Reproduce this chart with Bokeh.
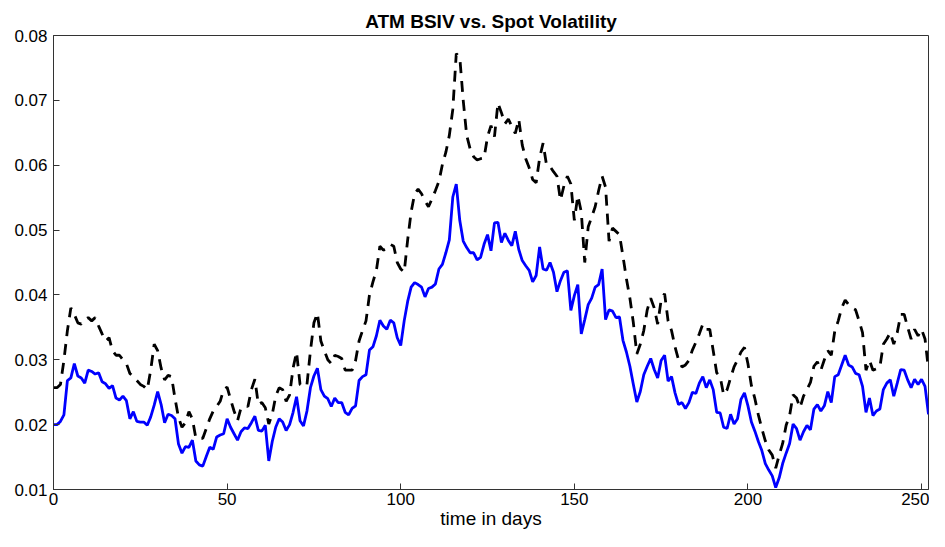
from bokeh.plotting import figure
from bokeh.models import FixedTicker, Range1d
from bokeh.embed import file_html
from bokeh.resources import INLINE

days = list(range(253))

atm_bsiv = [
    0.0200, 0.0200, 0.0205, 0.0215, 0.0268, 0.0272, 0.0294, 0.0275, 0.0272, 0.0264,
    0.0284, 0.0282, 0.0278, 0.0280, 0.0266, 0.0263, 0.0256, 0.0260, 0.0241, 0.0238,
    0.0244, 0.0237, 0.0209, 0.0220, 0.0205, 0.0204, 0.0204, 0.0199, 0.0212, 0.0230,
    0.0251, 0.0231, 0.0203, 0.0216, 0.0214, 0.0209, 0.0170, 0.0156, 0.0166, 0.0165,
    0.0176, 0.0144, 0.0138, 0.0136, 0.0151, 0.0165, 0.0162, 0.0181, 0.0184, 0.0186,
    0.0209, 0.0196, 0.0186, 0.0176, 0.0189, 0.0195, 0.0194, 0.0203, 0.0213, 0.0191,
    0.0190, 0.0199, 0.0144, 0.0174, 0.0196, 0.0209, 0.0204, 0.0191, 0.0200, 0.0219,
    0.0243, 0.0206, 0.0198, 0.0221, 0.0257, 0.0275, 0.0287, 0.0254, 0.0244, 0.0240,
    0.0228, 0.0241, 0.0234, 0.0234, 0.0219, 0.0215, 0.0225, 0.0229, 0.0268, 0.0274,
    0.0277, 0.0315, 0.0320, 0.0337, 0.0361, 0.0352, 0.0347, 0.0361, 0.0357, 0.0334,
    0.0322, 0.0360, 0.0390, 0.0412, 0.0419, 0.0416, 0.0412, 0.0397, 0.0410, 0.0412,
    0.0417, 0.0440, 0.0447, 0.0465, 0.0485, 0.0551, 0.0571, 0.0515, 0.0483, 0.0473,
    0.0465, 0.0465, 0.0454, 0.0458, 0.0478, 0.0493, 0.0468, 0.0511, 0.0512, 0.0481,
    0.0495, 0.0484, 0.0476, 0.0498, 0.0470, 0.0453, 0.0445, 0.0438, 0.0420, 0.0430,
    0.0474, 0.0440, 0.0438, 0.0450, 0.0435, 0.0405, 0.0422, 0.0435, 0.0437, 0.0376,
    0.0399, 0.0416, 0.0340, 0.0362, 0.0385, 0.0395, 0.0412, 0.0416, 0.0440, 0.0362,
    0.0377, 0.0375, 0.0365, 0.0366, 0.0330, 0.0312, 0.0290, 0.0262, 0.0235, 0.0251,
    0.0277, 0.0290, 0.0302, 0.0285, 0.0272, 0.0299, 0.0307, 0.0267, 0.0274, 0.0249,
    0.0231, 0.0234, 0.0225, 0.0234, 0.0250, 0.0248, 0.0264, 0.0274, 0.0257, 0.0269,
    0.0254, 0.0219, 0.0218, 0.0196, 0.0194, 0.0216, 0.0201, 0.0209, 0.0239, 0.0249,
    0.0229, 0.0204, 0.0190, 0.0174, 0.0160, 0.0140, 0.0130, 0.0121, 0.0103, 0.0118,
    0.0140, 0.0156, 0.0171, 0.0201, 0.0194, 0.0176, 0.0189, 0.0199, 0.0192, 0.0224,
    0.0231, 0.0221, 0.0229, 0.0251, 0.0234, 0.0274, 0.0277, 0.0292, 0.0307, 0.0292,
    0.0289, 0.0279, 0.0277, 0.0259, 0.0219, 0.0241, 0.0214, 0.0221, 0.0224, 0.0254,
    0.0264, 0.0269, 0.0244, 0.0264, 0.0285, 0.0284, 0.0269, 0.0257, 0.0270, 0.0262,
    0.0270, 0.0259, 0.0216,
]

spot_vol = [
    0.0257, 0.0257, 0.0262, 0.0299, 0.0345, 0.0380, 0.0370, 0.0357, 0.0355, 0.0362,
    0.0365, 0.0360, 0.0365, 0.0352, 0.0340, 0.0329, 0.0334, 0.0314, 0.0307, 0.0307,
    0.0300, 0.0294, 0.0279, 0.0274, 0.0268, 0.0262, 0.0259, 0.0254, 0.0284, 0.0324,
    0.0314, 0.0287, 0.0269, 0.0276, 0.0274, 0.0240, 0.0211, 0.0196, 0.0203, 0.0220,
    0.0209, 0.0179, 0.0179, 0.0179, 0.0194, 0.0209, 0.0221, 0.0228, 0.0236, 0.0254,
    0.0258, 0.0239, 0.0221, 0.0206, 0.0226, 0.0229, 0.0228, 0.0254, 0.0270, 0.0231,
    0.0234, 0.0226, 0.0201, 0.0216, 0.0244, 0.0257, 0.0254, 0.0236, 0.0246, 0.0287,
    0.0312, 0.0262, 0.0258, 0.0262, 0.0314, 0.0357, 0.0372, 0.0329, 0.0314, 0.0300,
    0.0294, 0.0307, 0.0305, 0.0302, 0.0284, 0.0284, 0.0284, 0.0299, 0.0329, 0.0345,
    0.0360, 0.0400, 0.0420, 0.0438, 0.0475, 0.0469, 0.0472, 0.0478, 0.0475, 0.0450,
    0.0440, 0.0435, 0.0485, 0.0528, 0.0556, 0.0563, 0.0556, 0.0545, 0.0536, 0.0548,
    0.0561, 0.0575, 0.0601, 0.0620, 0.0646, 0.0686, 0.0772, 0.0767, 0.0700, 0.0646,
    0.0625, 0.0613, 0.0608, 0.0610, 0.0611, 0.0644, 0.0661, 0.0644, 0.0696, 0.0681,
    0.0664, 0.0671, 0.0660, 0.0649, 0.0671, 0.0631, 0.0610, 0.0596, 0.0578, 0.0573,
    0.0611, 0.0634, 0.0600, 0.0598, 0.0590, 0.0583, 0.0546, 0.0568, 0.0583, 0.0571,
    0.0515, 0.0553, 0.0528, 0.0450, 0.0505, 0.0520, 0.0536, 0.0561, 0.0583, 0.0566,
    0.0483, 0.0503, 0.0498, 0.0493, 0.0460, 0.0425, 0.0395, 0.0357, 0.0309, 0.0324,
    0.0345, 0.0377, 0.0395, 0.0380, 0.0355, 0.0392, 0.0402, 0.0360, 0.0345, 0.0320,
    0.0300, 0.0289, 0.0292, 0.0299, 0.0315, 0.0327, 0.0340, 0.0355, 0.0347, 0.0347,
    0.0314, 0.0280, 0.0274, 0.0246, 0.0254, 0.0272, 0.0289, 0.0300, 0.0312, 0.0319,
    0.0294, 0.0260, 0.0240, 0.0215, 0.0194, 0.0175, 0.0161, 0.0153, 0.0133, 0.0153,
    0.0171, 0.0199, 0.0214, 0.0246, 0.0241, 0.0226, 0.0244, 0.0254, 0.0265, 0.0290,
    0.0297, 0.0284, 0.0300, 0.0314, 0.0307, 0.0344, 0.0360, 0.0380, 0.0392, 0.0385,
    0.0380, 0.0377, 0.0360, 0.0342, 0.0284, 0.0299, 0.0284, 0.0286, 0.0289, 0.0324,
    0.0332, 0.0342, 0.0324, 0.0342, 0.0370, 0.0370, 0.0350, 0.0332, 0.0347, 0.0337,
    0.0347, 0.0332, 0.0285,
]

x_ticks = [0, 50, 100, 150, 200, 250]
y_ticks = [0.01, 0.02, 0.03, 0.04, 0.05, 0.06, 0.07, 0.08]

FONT = "Liberation Sans"
AX = "#333333"

p = figure(width=929, height=531, x_range=Range1d(0, 252), y_range=Range1d(0.01, 0.08),
           output_backend="svg", toolbar_location=None,
           title="ATM BSIV vs. Spot Volatility")
p.min_border_left = 53
p.min_border_right = 1
p.min_border_top = 35
p.min_border_bottom = 42
p.background_fill_color = "white"
p.border_fill_color = "white"
p.outline_line_color = AX
p.outline_line_width = 1
p.xgrid.visible = False
p.ygrid.visible = False

p.title.align = "center"
p.title.text_font = FONT
p.title.text_font_size = "19px"
p.title.text_font_style = "bold"
p.title.text_color = "black"
p.title.offset = 0
p.title.standoff = 7

def style_axis(ax, ticks):
    ax.ticker = FixedTicker(ticks=ticks)
    ax.major_tick_in = 6
    ax.major_tick_out = 0
    ax.minor_tick_in = 0
    ax.minor_tick_out = 0
    ax.axis_line_color = AX
    ax.major_tick_line_color = AX
    ax.major_label_text_font = FONT
    ax.major_label_text_color = "black"
    ax.major_label_text_font_size = "17px"
    ax.major_label_standoff = 6

style_axis(p.xaxis[0], x_ticks)
style_axis(p.yaxis[0], y_ticks)
p.xaxis[0].major_label_standoff = 3
p.xaxis[0].axis_label = "time in days"
p.xaxis[0].axis_label_text_font = FONT
p.xaxis[0].axis_label_text_font_size = "19px"
p.xaxis[0].axis_label_text_font_style = "normal"
p.xaxis[0].axis_label_text_color = "black"
p.xaxis[0].axis_label_standoff = 0

p.line(days, spot_vol, line_color="black", line_width=2.8, line_dash="11 8")
p.line(days, atm_bsiv, line_color="#0000ff", line_width=2.8)

open("out.html", "w").write(file_html(p, INLINE))
